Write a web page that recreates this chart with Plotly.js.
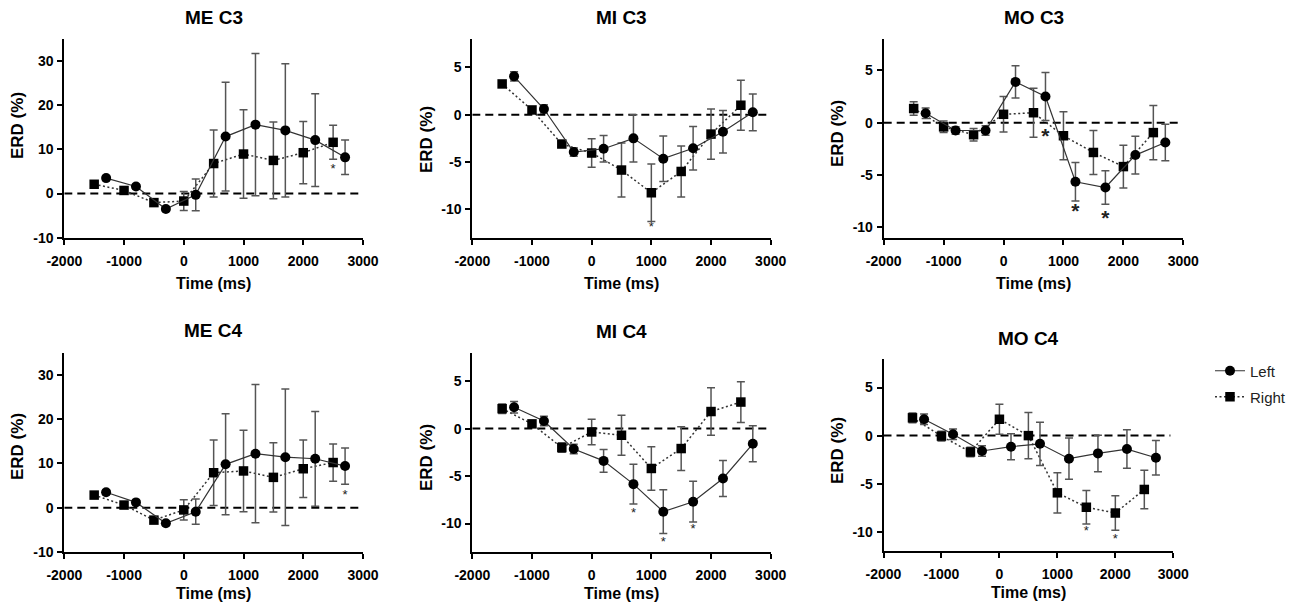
<!DOCTYPE html>
<html>
<head>
<meta charset="utf-8">
<script src="https://cdn.plot.ly/plotly-3.0.1.min.js"></script>
<style>html,body{margin:0;padding:0;background:#fff;}#chart{width:1297px;height:605px;}</style>
</head>
<body>
<div id="chart"></div>
<script>
// ---------- DATA ----------
const leftX  = [-1300, -800, -300, 200, 700, 1200, 1700, 2200, 2700];
const rightX = [-1500, -1000, -500, 0, 500, 1000, 1500, 2000, 2500];
const xTicks = [-2000, -1000, 0, 1000, 2000, 3000];
const zeroLineX = [-2000, 2950];
const zeroLineY = [0, 0];

const panelTitles = ["ME C3", "MI C3", "MO C3", "ME C4", "MI C4", "MO C4"];
const seriesNames = ["Left", "Right"];

// ME C3
const meC3Left      = [3.5, 1.6, -3.5, -0.3, 12.9, 15.6, 14.3, 12.1, 8.2];
const meC3LeftErr   = [0.5, 0.5, 0.5, 3.6, 12.3, 16.1, 15.1, 10.5, 3.9];
const meC3Right     = [2.1, 0.7, -2.05, -1.7, 6.8, 8.95, 7.5, 9.25, 11.6];
const meC3RightErr  = [0.5, 0.5, 0.5, 2.15, 7.6, 10.0, 8.7, 7.05, 3.85];
const meC3StarX = [2500], meC3StarY = [5.3];

// MI C3
const miC3Left      = [4.05, 0.6, -3.95, -3.6, -2.5, -4.65, -3.55, -1.8, 0.25];
const miC3LeftErr   = [0.5, 0.45, 0.45, 1.4, 2.5, 2.4, 2.3, 2.25, 1.95];
const miC3Right     = [3.25, 0.5, -3.1, -4.05, -5.85, -8.25, -6.0, -2.05, 1.0];
const miC3RightErr  = [0.2, 0.2, 0.3, 1.5, 2.85, 3.05, 2.7, 2.65, 2.65];
const miC3StarX = [1000], miC3StarY = [-12.0];

// MO C3
const moC3Left      = [0.9, -0.75, -0.75, 3.9, 2.5, -5.65, -6.2, -3.1, -1.9];
const moC3LeftErr   = [0.5, 0.35, 0.45, 1.55, 2.3, 1.85, 1.6, 1.8, 1.75];
const moC3Right     = [1.35, -0.4, -1.15, 0.8, 0.95, -1.25, -2.85, -4.2, -0.95];
const moC3RightErr  = [0.65, 0.55, 0.6, 1.7, 2.35, 2.3, 2.1, 2.05, 2.6];
const moC3StarX = [700, 1200, 1700], moC3StarY = [-1.4, -8.6, -9.25];

// ME C4
const meC4Left      = [3.5, 1.2, -3.5, -0.9, 9.8, 12.2, 11.4, 11.05, 9.4];
const meC4LeftErr   = [0.5, 0.5, 0.5, 2.85, 11.4, 15.6, 15.4, 10.7, 4.1];
const meC4Right     = [2.85, 0.6, -2.8, -0.5, 7.9, 8.3, 6.85, 8.8, 10.2];
const meC4RightErr  = [0.5, 0.5, 0.5, 2.3, 7.4, 9.2, 7.8, 6.5, 4.2];
const meC4StarX = [2700], meC4StarY = [2.6];

// MI C4
const miC4Left      = [2.25, 0.8, -2.15, -3.4, -5.85, -8.75, -7.7, -5.25, -1.6];
const miC4LeftErr   = [0.6, 0.5, 0.5, 1.2, 2.1, 2.3, 2.15, 1.9, 1.9];
const miC4Right     = [2.1, 0.5, -2.0, -0.35, -0.7, -4.2, -2.1, 1.8, 2.8];
const miC4RightErr  = [0.5, 0.2, 0.5, 1.35, 2.1, 2.3, 2.3, 2.5, 2.15];
const miC4StarX = [700, 1200, 1700], miC4StarY = [-9.0, -12.0, -10.7];

// MO C4
const moC4Left      = [1.7, 0.15, -1.6, -1.15, -0.85, -2.4, -1.85, -1.4, -2.3];
const moC4LeftErr   = [0.55, 0.55, 0.55, 1.35, 2.25, 2.15, 1.9, 2.0, 1.8];
const moC4Right     = [1.85, -0.05, -1.7, 1.7, 0.0, -5.95, -7.45, -8.05, -5.6];
const moC4RightErr  = [0.5, 0.5, 0.5, 1.55, 2.4, 2.1, 1.75, 1.8, 2.0];
const moC4StarX = [1500, 2000], moC4StarY = [-10.0, -10.8];

// ---------- LAYOUT HELPERS ----------
const W = 1297, H = 605;
const fx = p => p / W;
const fy = p => 1 - p / H;
const FONT = "Liberation Sans, Arial, Helvetica, sans-serif";

const panels = [
  {L: meC3Left, LE: meC3LeftErr, R: meC3Right, RE: meC3RightErr, sx: meC3StarX, sy: meC3StarY, star: 13, range: [-10, 35], yt: [-10, 0, 10, 20, 30],
   px: [64.3, 363], py: [39, 237.7], title: [213.7, 17], xt: [213.7, 283], yl: [17, 126]},
  {L: miC3Left, LE: miC3LeftErr, R: miC3Right, RE: miC3RightErr, sx: miC3StarX, sy: miC3StarY, star: 13, range: [-13, 8], yt: [-10, -5, 0, 5],
   px: [472.3, 770.7], py: [39, 237.7], title: [621.5, 17], xt: [621.5, 283], yl: [426, 140]},
  {L: moC3Left, LE: moC3LeftErr, R: moC3Right, RE: moC3RightErr, sx: moC3StarX, sy: moC3StarY, star: 21, range: [-11, 8], yt: [-10, -5, 0, 5],
   px: [883.7, 1183.3], py: [39, 237.7], title: [1033.5, 17], xt: [1033.5, 283], yl: [837, 133]},
  {L: meC4Left, LE: meC4LeftErr, R: meC4Right, RE: meC4RightErr, sx: meC4StarX, sy: meC4StarY, star: 13, range: [-10, 35], yt: [-10, 0, 10, 20, 30],
   px: [64.3, 363], py: [352.7, 552], title: [213.7, 330], xt: [213.7, 593], yl: [17, 447]},
  {L: miC4Left, LE: miC4LeftErr, R: miC4Right, RE: miC4RightErr, sx: miC4StarX, sy: miC4StarY, star: 13, range: [-13, 8], yt: [-10, -5, 0, 5],
   px: [472.3, 770.7], py: [352.7, 552], title: [621.5, 331], xt: [621.5, 593], yl: [426, 458]},
  {L: moC4Left, LE: moC4LeftErr, R: moC4Right, RE: moC4RightErr, sx: moC4StarX, sy: moC4StarY, star: 13, range: [-12, 8], yt: [-10, -5, 0, 5],
   px: [883.5, 1173.3], py: [358.7, 551], title: [1028.4, 338], xt: [1028.4, 592], yl: [837, 450]}
];

const traces = [];
const layout = {
  width: W, height: H,
  margin: {l: 0, r: 0, t: 0, b: 0},
  paper_bgcolor: "#fff", plot_bgcolor: "#fff",
  font: {family: FONT, color: "#000"},
  showlegend: true,
  legend: {x: fx(1210), y: fy(371), xanchor: "left", yanchor: "middle", bgcolor: "rgba(0,0,0,0)",
           font: {family: FONT, size: 15, color: "#222"}, itemwidth: 30},
  legend2: {x: fx(1210), y: fy(397), xanchor: "left", yanchor: "middle", bgcolor: "rgba(0,0,0,0)",
           font: {family: FONT, size: 15, color: "#222"}, itemwidth: 30},
  annotations: []
};

panels.forEach((p, i) => {
  const n = i + 1;
  const xa = n === 1 ? "x" : "x" + n;
  const ya = n === 1 ? "y" : "y" + n;
  const xKey = n === 1 ? "xaxis" : "xaxis" + n;
  const yKey = n === 1 ? "yaxis" : "yaxis" + n;

  layout[xKey] = {
    domain: [fx(p.px[0]), fx(p.px[1])], anchor: ya, range: [-2000, 3000],
    tickvals: xTicks, ticktext: xTicks.map(String),
    showline: true, linecolor: "#000", linewidth: 2, mirror: false,
    ticks: "outside", ticklen: 5, tickwidth: 2, tickcolor: "#000",
    showgrid: false, zeroline: false, ticklabelstandoff: 4,
    tickfont: {family: FONT, size: 14, weight: "bold", color: "#000"}
  };
  layout[yKey] = {
    domain: [fy(p.py[1]), fy(p.py[0])], anchor: xa, range: p.range,
    tickvals: p.yt, ticktext: p.yt.map(String),
    showline: true, linecolor: "#000", linewidth: 2,
    ticks: "outside", ticklen: 5, tickwidth: 2, tickcolor: "#000",
    showgrid: false, zeroline: false, ticklabelstandoff: 1,
    tickfont: {family: FONT, size: 14, weight: "bold", color: "#000"}
  };

  // zero reference line
  traces.push({x: zeroLineX, y: zeroLineY, xaxis: xa, yaxis: ya, mode: "lines",
    line: {color: "#000", width: 2, dash: "8px,5px"}, showlegend: false, hoverinfo: "skip"});

  // Right series (squares, dotted)
  traces.push({x: rightX, y: p.R, xaxis: xa, yaxis: ya, name: seriesNames[1], mode: "lines+markers",
    line: {color: "#333", width: 1.5, dash: "2px,2.5px"},
    marker: {symbol: "square", size: 9.5, color: "#000"},
    error_y: {type: "data", array: p.RE, visible: true, color: "#555", thickness: 1.5, width: 4},
    showlegend: i === 0, legend: "legend2", cliponaxis: false});

  // Left series (circles, solid)
  traces.push({x: leftX, y: p.L, xaxis: xa, yaxis: ya, name: seriesNames[0], mode: "lines+markers",
    line: {color: "#333", width: 1.2},
    marker: {symbol: "circle", size: 10, color: "#000"},
    error_y: {type: "data", array: p.LE, visible: true, color: "#555", thickness: 1.5, width: 4},
    showlegend: i === 0, legend: "legend", cliponaxis: false});

  // significance stars
  traces.push({x: p.sx, y: p.sy, xaxis: xa, yaxis: ya, mode: "text", text: p.sx.map(() => "*"),
    textposition: "middle center",
    textfont: {family: FONT, size: p.star, weight: p.star > 15 ? "bold" : "normal", color: "#222"},
    showlegend: false, hoverinfo: "skip", cliponaxis: false});

  // panel title
  layout.annotations.push({text: panelTitles[i], xref: "paper", yref: "paper",
    x: fx(p.title[0]), y: fy(p.title[1]), xanchor: "center", yanchor: "middle", showarrow: false,
    font: {family: FONT, size: 19, weight: "bold", color: "#000"}});
  // x title
  layout.annotations.push({text: "Time (ms)", xref: "paper", yref: "paper",
    x: fx(p.xt[0]), y: fy(p.xt[1]), xanchor: "center", yanchor: "middle", showarrow: false,
    font: {family: FONT, size: 16, weight: "bold", color: "#000"}});
  // y title
  layout.annotations.push({text: "ERD (%)", xref: "paper", yref: "paper", textangle: -90,
    x: fx(p.yl[0]), y: fy(p.yl[1]), xanchor: "center", yanchor: "middle", showarrow: false,
    font: {family: FONT, size: 17, weight: "bold", color: "#000"}});
});

Plotly.newPlot("chart", traces, layout, {staticPlot: true, displayModeBar: false});
</script>
</body>
</html>
